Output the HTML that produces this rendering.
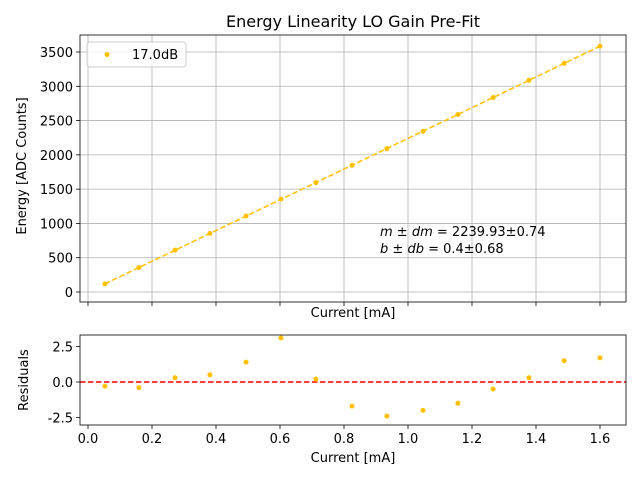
<!DOCTYPE html>
<html><head><meta charset="utf-8"><style>
body{margin:0;background:#fff;font-family:"Liberation Sans","DejaVu Sans",sans-serif}
svg text{font-family:"DejaVu Sans","Liberation Sans",sans-serif;fill:#000}
</style></head><body>
<svg id="c" width="640" height="480"></svg>
<script>
const currents=[0.053,0.159,0.272,0.381,0.494,0.603,0.712,0.825,0.934,1.047,1.156,1.266,1.378,1.488,1.6];
const residuals=[-0.3,-0.4,0.3,0.5,1.4,3.1,0.2,-1.7,-2.4,-2.0,-1.5,-0.5,0.3,1.5,1.7];
const slope=2239.93, intercept=0.4;
const xTicks=[0,0.2,0.4,0.6,0.8,1.0,1.2,1.4,1.6];
const yTicks=[0,500,1000,1500,2000,2500,3000,3500];
const rTicks=[-2.5,0,2.5];
const energies=currents.map((c,i)=>slope*c+intercept+residuals[i]);

const svg=document.getElementById('c');
const NS='http://www.w3.org/2000/svg';
function el(t,a,p){const e=document.createElementNS(NS,t);for(const k in a)e.setAttribute(k,a[k]);(p||svg).appendChild(e);return e;}
const L=80,R=626,T1=35,B1=302,T2=335,B2=425;
const sx=v=>88+v*320;
const sy=v=>292-v*240/3500;
const sr=v=>382-v*35.5/2.5;

let t=el('text',{x:353,y:27,'text-anchor':'middle',style:'font-size:16px'});t.textContent='Energy Linearity LO Gain Pre-Fit';



xTicks.forEach(v=>{const g=el('line',{x1:sx(v),x2:sx(v),y1:T1,y2:B1,stroke:'#b0b0b0','stroke-width':0.8});


el('line',{x1:sx(v),x2:sx(v),y1:B1,y2:B1+4,stroke:'#000','stroke-width':0.8});
el('line',{x1:sx(v),x2:sx(v),y1:B2,y2:B2+4,stroke:'#000','stroke-width':0.8});
const tx=el('text',{x:sx(v),y:B2+18,'text-anchor':'middle',style:'font-size:13px'});tx.textContent=v.toFixed(1);

});
yTicks.forEach(v=>{const g=el('line',{x1:L,x2:R,y1:sy(v),y2:sy(v),stroke:'#b0b0b0','stroke-width':0.8});


el('line',{x1:L-4,x2:L,y1:sy(v),y2:sy(v),stroke:'#000','stroke-width':0.8});
const tx=el('text',{x:L-7,y:sy(v)+5,'text-anchor':'end',style:'font-size:13px'});tx.textContent=v;

});
rTicks.forEach(v=>{el('line',{x1:L-4,x2:L,y1:sr(v),y2:sr(v),stroke:'#000','stroke-width':0.8});
const tx=el('text',{x:L-7,y:sr(v)+5,'text-anchor':'end',style:'font-size:13px'});tx.textContent=v.toFixed(1);

});

const fit=el('line',{x1:sx(currents[0]),y1:sy(slope*currents[0]+intercept),x2:sx(currents[currents.length-1]),y2:sy(slope*currents[currents.length-1]+intercept),stroke:'#ffc000','stroke-width':1.5,'stroke-dasharray':'5.5,2.5'});


currents.forEach((c,i)=>{const p=el('circle',{cx:sx(c),cy:sy(energies[i]),r:2.5,fill:'#ffc000'});

});

const z=el('line',{x1:L,x2:R,y1:sr(0),y2:sr(0),stroke:'#ff0000','stroke-width':1.5,'stroke-dasharray':'5.5,2.5'});


currents.forEach((c,i)=>{const p=el('circle',{cx:sx(c),cy:sr(residuals[i]),r:2.5,fill:'#ffc000'});

});

const f1=el('rect',{x:L,y:T1,width:R-L,height:B1-T1,fill:'none',stroke:'#000','stroke-width':0.8});


const f2=el('rect',{x:L,y:T2,width:R-L,height:B2-T2,fill:'none',stroke:'#000','stroke-width':0.8});



const lg=el('rect',{x:87,y:42,width:99,height:25,rx:3,fill:'#fff','fill-opacity':0.8,stroke:'#ccc'});


el('circle',{cx:107,cy:54.5,r:2.5,fill:'#ffc000'});
t=el('text',{x:132,y:59,style:'font-size:13px'});t.textContent='17.0dB';



t=el('text',{x:380,y:236,style:'font-size:13px'});t.innerHTML='<tspan font-style="italic">m</tspan> ± <tspan font-style="italic">dm</tspan> = 2239.93±0.74';


t=el('text',{x:380,y:253,style:'font-size:13px'});t.innerHTML='<tspan font-style="italic">b</tspan> ± <tspan font-style="italic">db</tspan> = 0.4±0.68';



t=el('text',{x:353,y:317,'text-anchor':'middle',style:'font-size:13px'});t.textContent='Current [mA]';


t=el('text',{x:353,y:462,'text-anchor':'middle',style:'font-size:13px'});t.textContent='Current [mA]';


t=el('text',{x:0,y:0,'text-anchor':'middle',transform:'translate(26,166) rotate(-90)',style:'font-size:13px'});t.textContent='Energy [ADC Counts]';


t=el('text',{x:0,y:0,'text-anchor':'middle',transform:'translate(28,380) rotate(-90)',style:'font-size:13px'});t.textContent='Residuals';


</script>
</body></html>
